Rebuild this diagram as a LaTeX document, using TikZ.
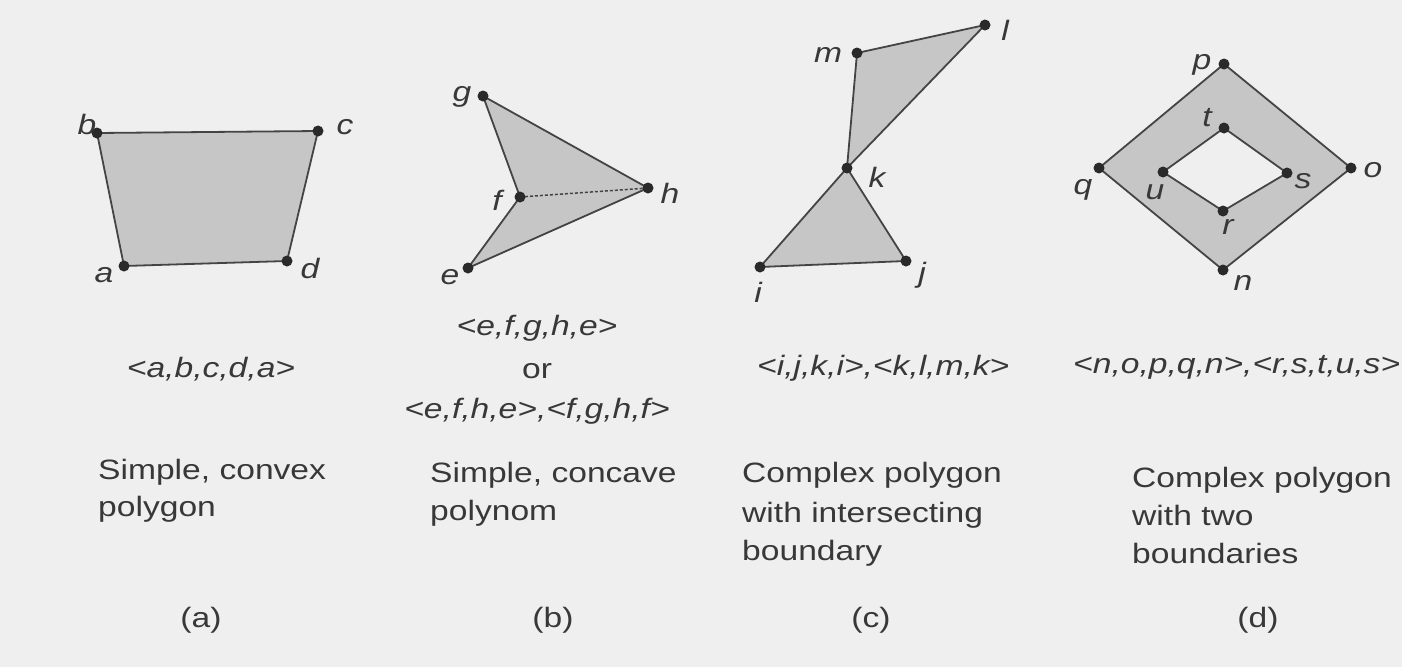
\documentclass[tikz,border=0pt]{standalone}
\usepackage{fontspec}
\setmainfont{Liberation Sans}[FakeStretch=1.2]
\definecolor{paper}{HTML}{EFEFEF}
\definecolor{ink}{HTML}{383838}
\definecolor{polyfill}{HTML}{C6C6C6}
\definecolor{edgec}{HTML}{444444}
\definecolor{dotc}{HTML}{2A2A2A}
\tikzset{
  vdot/.style={circle, fill=dotc, inner sep=0pt, minimum size=11pt},
  vlab/.style={inner sep=0pt, text=ink, font=\fontsize{28}{34}\selectfont\itshape},
  formula/.style={inner sep=0pt, text=ink, font=\fontsize{28}{34}\selectfont\itshape},
  caption/.style={inner sep=0pt, text=ink, font=\fontsize{28}{34}\selectfont},
  poly/.style={fill=polyfill, draw=edgec, line width=1.8pt, line join=round},
  hidden edge/.style={draw=edgec, line width=1.5pt, dash pattern=on 3pt off 2pt},
}
\begin{document}
\begin{tikzpicture}[x=1pt,y=-1pt]
\fill[paper] (0,0) rectangle (1402,667);
\useasboundingbox (0,0) rectangle (1402,667);
% vertices
\coordinate (a) at (124,266); \coordinate (b) at (97,133);
\coordinate (c) at (318,131); \coordinate (d) at (287,261);
\coordinate (e) at (468,268); \coordinate (f) at (520,197);
\coordinate (g) at (483,96);  \coordinate (h) at (648,188);
\coordinate (i) at (760,267); \coordinate (j) at (906,261);
\coordinate (k) at (847,168); \coordinate (l) at (985,25);
\coordinate (m) at (857,53);
\coordinate (n) at (1223,270); \coordinate (o) at (1351,168);
\coordinate (p) at (1224,64);  \coordinate (q) at (1099,168);
\coordinate (r) at (1223,211); \coordinate (s) at (1287,173);
\coordinate (t) at (1224,128); \coordinate (u) at (1163,172);
% polygons
\path[poly] (a) -- (b) -- (c) -- (d) -- cycle;
\path[poly] (e) -- (f) -- (g) -- (h) -- cycle;
\path[hidden edge] (f) -- (h);
\path[poly] (i) -- (j) -- (k) -- cycle;
\path[poly] (k) -- (l) -- (m) -- cycle;
\path[poly, even odd rule] (n) -- (o) -- (p) -- (q) -- cycle
  (r) -- (s) -- (t) -- (u) -- cycle;
% dots
\foreach \v in {a,b,c,d,e,f,g,h,i,j,k,l,m,n,o,p,q,r,s,t,u}
  \node[vdot] (dot\v) at (\v) {};
% vertex labels
\node[vlab] (la) at (104,275) {a};
\node[vlab] (lb) at (87,124) {b};
\node[vlab] (lc) at (345,127) {c};
\node[vlab] (ld) at (310,268) {d};
\node[vlab] (le) at (450,277) {e};
\node[vlab] (lf) at (497,200) {f};
\node[vlab] (lg) at (462,97) {g};
\node[vlab] (lh) at (670,193) {h};
\node[vlab] (li) at (758,292) {i};
\node[vlab] (lj) at (922,275) {j};
\node[vlab] (lk) at (877,177) {k};
\node[vlab] (ll) at (1005,30) {l};
\node[vlab] (lm) at (828,55) {m};
\node[vlab] (ln) at (1243,283) {n};
\node[vlab] (lo) at (1373,170) {o};
\node[vlab] (lp) at (1202,65) {p};
\node[vlab] (lq) at (1083,190) {q};
\node[vlab] (lr) at (1228,227) {r};
\node[vlab] (ls) at (1303,181) {s};
\node[vlab] (lt) at (1207,118) {t};
\node[vlab] (lu) at (1155,192) {u};
% (a)
\node[formula, anchor=base] (fa) at (211,377) {<a,b,c,d,a>};
\node[caption, anchor=base west] (ca1) at (98,479) {Simple, convex};
\node[caption, anchor=base west] (ca2) at (98,516) {polygon};
\node[caption, anchor=base] (capa) at (201,627) {(a)};
% (b)
\node[formula, anchor=base] (fb1) at (537,335) {<e,f,g,h,e>};
\node[caption, anchor=base] (fb2) at (537,378) {or};
\node[formula, anchor=base] (fb3) at (537,418) {<e,f,h,e>,<f,g,h,f>};
\node[caption, anchor=base west] (cb1) at (430,482) {Simple, concave};
\node[caption, anchor=base west] (cb2) at (430,520) {polynom};
\node[caption, anchor=base] (capb) at (553,627) {(b)};
% (c)
\node[formula, anchor=base west] (fc) at (757,375) {<i,j,k,i>,<k,l,m,k>};
\node[caption, anchor=base west] (cc1) at (742,482) {Complex polygon};
\node[caption, anchor=base west] (cc2) at (742,522) {with intersecting};
\node[caption, anchor=base west] (cc3) at (742,560) {boundary};
\node[caption, anchor=base] (capc) at (871,627) {(c)};
% (d)
\node[formula, anchor=base west] (fd) at (1073,373) {<n,o,p,q,n>,<r,s,t,u,s>};
\node[caption, anchor=base west] (cd1) at (1132,487) {Complex polygon};
\node[caption, anchor=base west] (cd2) at (1132,525) {with two};
\node[caption, anchor=base west] (cd3) at (1132,563) {boundaries};
\node[caption, anchor=base] (capd) at (1258,627) {(d)};
\end{tikzpicture}
\end{document}
